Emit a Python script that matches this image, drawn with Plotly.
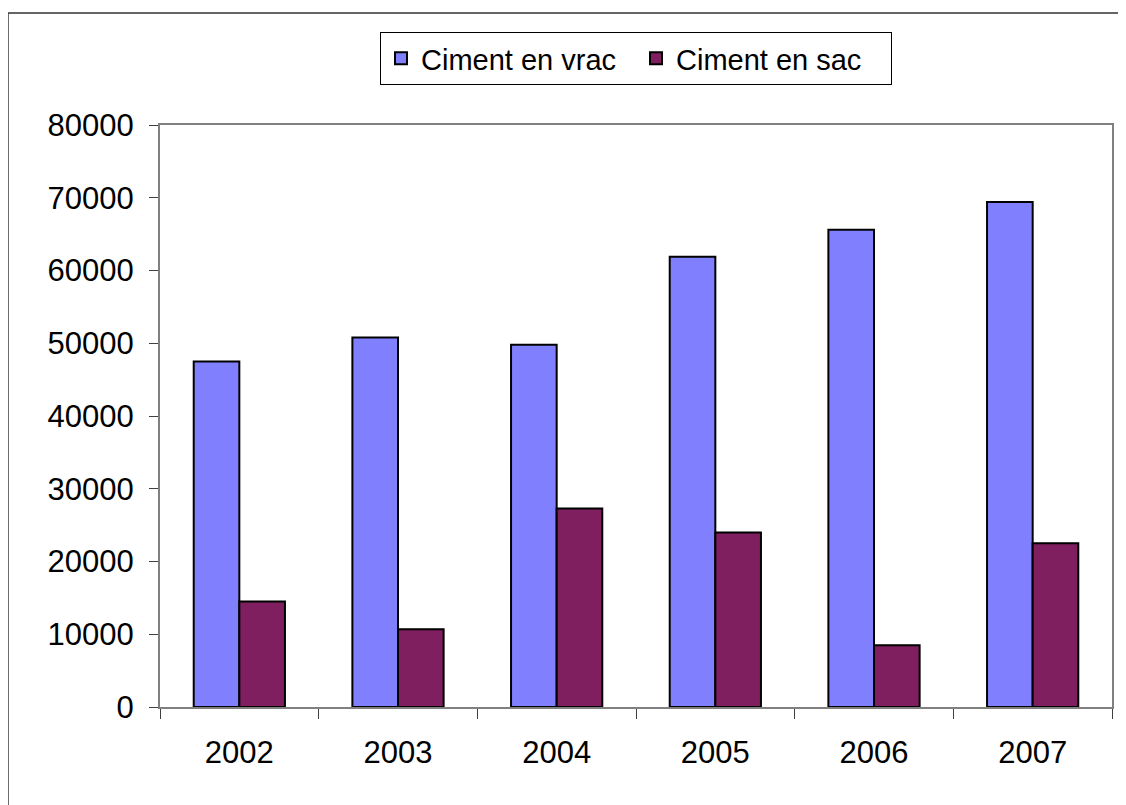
import plotly.graph_objects as go

years = ["2002", "2003", "2004", "2005", "2006", "2007"]
vrac = [47500, 50800, 49800, 61900, 65600, 69400]
sac = [14500, 10700, 27300, 24000, 8500, 22500]

FONT = "Arial, Liberation Sans, sans-serif"

fig = go.Figure()
fig.add_trace(
    go.Bar(
        x=years,
        y=vrac,
        name="Ciment en vrac",
        marker=dict(color="#8080FF", line=dict(color="black", width=2)),
    )
)
fig.add_trace(
    go.Bar(
        x=years,
        y=sac,
        name="Ciment en sac",
        marker=dict(color="#7F1F5F", line=dict(color="black", width=2)),
    )
)

# the page body has an 8px margin, so the figure is pulled up/left by that much
fig.update_layout(
    width=1126,
    height=805,
    margin=dict(l=152, r=22, t=117, b=106),
    paper_bgcolor="white",
    plot_bgcolor="white",
    barmode="group",
    bargap=0.425,
    bargroupgap=0,
    font=dict(family=FONT, size=31, color="black"),
    showlegend=True,
    legend=dict(
        orientation="h",
        x=0.5,
        xanchor="center",
        y=1.1143,
        yanchor="middle",
        bordercolor="black",
        borderwidth=1,
        font=dict(size=29),
        itemwidth=30,
        entrywidth=210,
    ),
)

fig.update_xaxes(
    type="category",
    showline=True,
    mirror=True,
    linecolor="#808080",
    linewidth=2,
    ticks="outside",
    tickson="boundaries",
    ticklen=10,
    tickcolor="#404040",
    tickwidth=1,
    ticklabelstandoff=17,
    showgrid=False,
)
fig.update_yaxes(
    range=[0, 80000],
    dtick=10000,
    tickformat="d",
    showline=True,
    mirror=True,
    linecolor="#808080",
    linewidth=2,
    ticks="outside",
    ticklen=9,
    tickcolor="#404040",
    tickwidth=1,
    ticklabelstandoff=9,
    showgrid=False,
    zeroline=False,
)

# outer chart frame (right and bottom edges run off the page)
fig.add_shape(
    type="rect",
    xref="paper",
    yref="paper",
    x0=-0.1597,
    x1=1.03,
    y0=-0.2,
    y1=1.1924,
    line=dict(color="#333333", width=1.5),
    fillcolor="rgba(0,0,0,0)",
    layer="below",
)

fig.write_html("out.html")
